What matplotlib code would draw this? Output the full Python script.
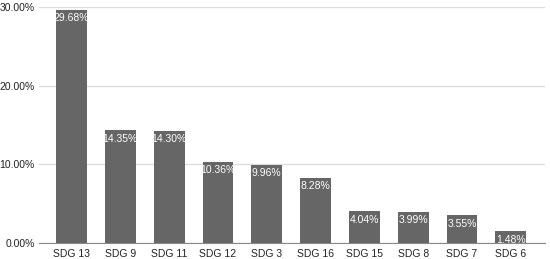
import matplotlib
matplotlib.use("Agg")
import matplotlib.pyplot as plt

plt.rcParams["font.family"] = ["Liberation Sans", "DejaVu Sans"]

labels = ["SDG 13", "SDG 9", "SDG 11", "SDG 12", "SDG 3", "SDG 16", "SDG 15", "SDG 8", "SDG 7", "SDG 6"]
values = [29.68, 14.35, 14.30, 10.36, 9.96, 8.28, 4.04, 3.99, 3.55, 1.48]
yticks = [0, 10, 20, 30]

fig = plt.figure(figsize=(5.5, 2.59), dpi=100)
ax = fig.add_axes([39 / 550, 16 / 259, 506 / 550, 236 / 259])

x = list(range(len(labels)))
ax.bar(x, values, width=0.63, color="#666666", zorder=3)
for i, v in zip(x, values):
    ax.text(i, v - 0.45, f"{v:.2f}%", ha="center", va="top", color="white", fontsize=7.5, zorder=4)

ax.set_xlim(-0.666, 9.70)
ax.set_ylim(0, 30)
ax.set_yticks(yticks)
ax.set_yticklabels([f"{t:.2f}%" for t in yticks], fontsize=7.5, color="#222222")
ax.set_xticks(x)
ax.set_xticklabels(labels, fontsize=7.5, color="#222222")
ax.tick_params(axis="y", length=0, pad=3)
ax.tick_params(axis="x", length=0, pad=4)
ax.grid(axis="y", color="#dddddd", linewidth=1, zorder=0)
for s in ["top", "right", "left"]:
    ax.spines[s].set_visible(False)
ax.spines["bottom"].set_color("#888888")
ax.spines["bottom"].set_zorder(5)

fig.savefig("out.png", dpi=100)
